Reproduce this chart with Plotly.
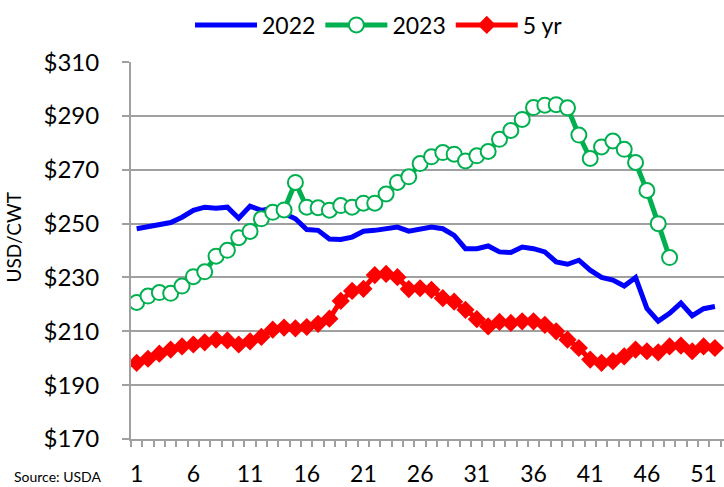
import plotly.graph_objects as go

# Weekly prices, USD per hundredweight
weeks = list(range(1, 53))

price_2022 = [248.1, 249.0, 249.6, 250.4, 252.4, 254.9, 256.1, 255.7, 256.1, 252.0,
              256.5, 254.9, 255.8, 254.0, 251.8, 247.8, 247.5, 244.3, 244.1, 245.0,
              247.2, 247.5, 248.0, 248.7, 247.2, 248.0, 248.7, 248.1, 245.6, 240.7,
              240.7, 241.7, 239.5, 239.3, 241.3, 240.7, 239.5, 235.8, 234.9, 236.4,
              232.7, 230.0, 229.0, 226.8, 230.0, 218.5, 213.8, 216.7, 220.5, 215.8,
              218.4, 219.2]

price_2023 = [220.7, 223.1, 224.4, 224.1, 226.8, 230.3, 232.1, 237.9, 240.1, 244.8,
              247.1, 251.8, 254.2, 255.1, 265.3, 256.1, 255.9, 255.0, 256.7, 256.1,
              257.6, 257.6, 261.0, 265.3, 267.4, 272.3, 274.8, 276.4, 275.8, 273.3,
              275.2, 276.8, 281.3, 284.6, 288.7, 293.1, 294.0, 294.2, 293.0, 282.9,
              274.2, 278.5, 280.7, 277.6, 272.7, 262.3, 250.0, 237.4]

price_5yr = [198.3, 199.8, 201.7, 203.2, 204.4, 205.1, 205.9, 206.9, 206.6, 205.1,
             206.3, 207.9, 210.6, 211.4, 211.1, 211.6, 212.8, 214.7, 221.3, 225.0,
             225.8, 230.9, 231.3, 230.1, 225.7, 226.0, 225.4, 222.3, 221.0, 218.0,
             214.5, 211.8, 213.5, 213.1, 213.7, 213.7, 212.4, 210.0, 206.9, 203.8,
             199.5, 198.3, 198.9, 200.7, 203.2, 202.6, 202.2, 204.4, 204.7, 202.6,
             204.4, 203.8]

week_labels = list(range(1, 52, 5))
y_ticks = list(range(170, 311, 20))
y_tick_text = ["$" + str(v) for v in y_ticks]

FONT = "Lato, 'Liberation Sans', sans-serif"
GRID = "#A0A0A0"

fig = go.Figure()
fig.add_trace(go.Scatter(
    x=weeks, y=price_2022, name="2022", mode="lines",
    line=dict(color="#0000FF", width=5)))
fig.add_trace(go.Scatter(
    x=weeks[:len(price_2023)], y=price_2023, name="2023", mode="lines+markers",
    line=dict(color="#00B050", width=5),
    marker=dict(symbol="circle", size=15, color="white",
                line=dict(color="#00B050", width=2))))
fig.add_trace(go.Scatter(
    x=weeks, y=price_5yr, name="5 yr", mode="lines+markers",
    line=dict(color="#FF0000", width=5),
    marker=dict(symbol="diamond", size=14, color="#FF0000")))

fig.update_layout(
    width=724, height=487,
    margin=dict(l=131, r=0, t=61, b=48),
    paper_bgcolor="white", plot_bgcolor="white",
    font=dict(family=FONT, color="black"),
    showlegend=True,
    legend=dict(orientation="h", xref="container", yref="container",
                x=190 / 724, xanchor="left", y=(487 - 25) / 487, yanchor="middle",
                itemwidth=62, font=dict(family=FONT, size=23, color="black"),
                bgcolor="rgba(0,0,0,0)", traceorder="normal"),
    xaxis=dict(range=[0.5, 52.8], tickmode="array", tickvals=week_labels,
               ticktext=[str(w) for w in week_labels], ticks="",
               showline=True, linecolor=GRID, linewidth=2,
               showgrid=False, zeroline=False,
               tickfont=dict(family=FONT, size=23, color="black"),
               ticklabelstandoff=13,
               minor=dict(tick0=0.5, dtick=1, ticks="outside", ticklen=6,
                          tickcolor=GRID, tickwidth=2, showgrid=False)),
    yaxis=dict(range=[170, 310], tickmode="array", tickvals=y_ticks,
               ticktext=y_tick_text, showgrid=True, gridcolor=GRID, gridwidth=2,
               showline=True, linecolor=GRID, linewidth=2, zeroline=False,
               ticks="outside", ticklen=7, tickcolor=GRID, tickwidth=2,
               ticklabelstandoff=18,
               tickfont=dict(family=FONT, size=24, color="black")),
    annotations=[
        dict(text="Source: USDA", xref="paper", yref="paper",
             x=(12 - 131) / 593, xanchor="left",
             y=(439 - 477) / 378, yanchor="middle", showarrow=False,
             font=dict(family=FONT, size=14, color="black")),
        dict(text="USD/CWT", xref="paper", yref="paper", textangle=-90,
             x=(14 - 131) / 593, xanchor="center",
             y=(439 - 237) / 378, yanchor="middle", showarrow=False,
             font=dict(family=FONT, size=19, color="black")),
    ],
)

fig.write_html("out.html")
